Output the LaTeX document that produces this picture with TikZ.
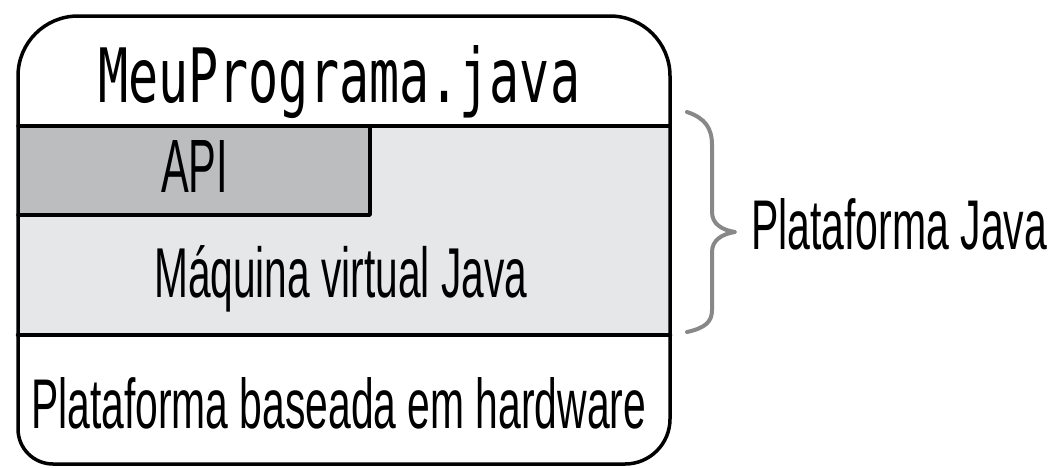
\documentclass[tikz,border=0pt]{standalone}
\usepackage{fontspec}
\setmainfont{Liberation Sans}
\newfontfamily\monofont{DejaVu Sans Mono}
\definecolor{apigray}{HTML}{BCBDBF}
\definecolor{jvmgray}{HTML}{E6E7E8}
\definecolor{bracegray}{HTML}{888888}
\tikzset{
  lbl/.style={inner sep=0pt, anchor=base west},
  edge/.style={line width=3.5pt, line cap=round, line join=round},
}
\begin{document}
\begin{tikzpicture}[x=1pt,y=-1pt]
\useasboundingbox (0,0) rectangle (1049,467);
% layer fills
\fill[jvmgray] (18,126) rectangle (670,335);
\fill[apigray] (18,126) rectangle (370,215);
% layer lines
\draw[edge] (18,126) -- (670,126);
\draw[edge] (370,126) -- (370,215) -- (18,215);
\draw[edge, line width=4.5pt] (18,335) -- (670,335);
% outer rounded frame
\draw[edge] (18,300) [rounded corners=60pt] |- (344,16) -| (670,300)
  [rounded corners=45pt] |- (344,464) [rounded corners=35pt] -| (18,300) -- cycle;
% texts
\node[lbl] (prog) at (98,102) {\resizebox{482pt}{57pt}{\monofont MeuPrograma.java}};
\node[lbl] (api) at (161,192) {\resizebox{67pt}{52pt}{API}};
\node[lbl] (jvm) at (154,297) {\resizebox{373pt}{52pt}{Máquina virtual Java}};
\node[lbl] (hw) at (31,428) {\resizebox{615pt}{51pt}{Plataforma baseada em hardware}};
\node[lbl] (plat) at (751,249) {\resizebox{296pt}{51pt}{Plataforma Java}};
% brace
\draw[bracegray, line width=4pt, line cap=round, line join=round]
  (687,112) .. controls (705,118) and (712,128) .. (712,145)
  -- (712,212) .. controls (712,224) and (722,230) .. (735,232)
  .. controls (722,234) and (712,240) .. (712,252)
  -- (712,310) .. controls (712,322) and (705,328) .. (687,332);
\end{tikzpicture}
\end{document}
